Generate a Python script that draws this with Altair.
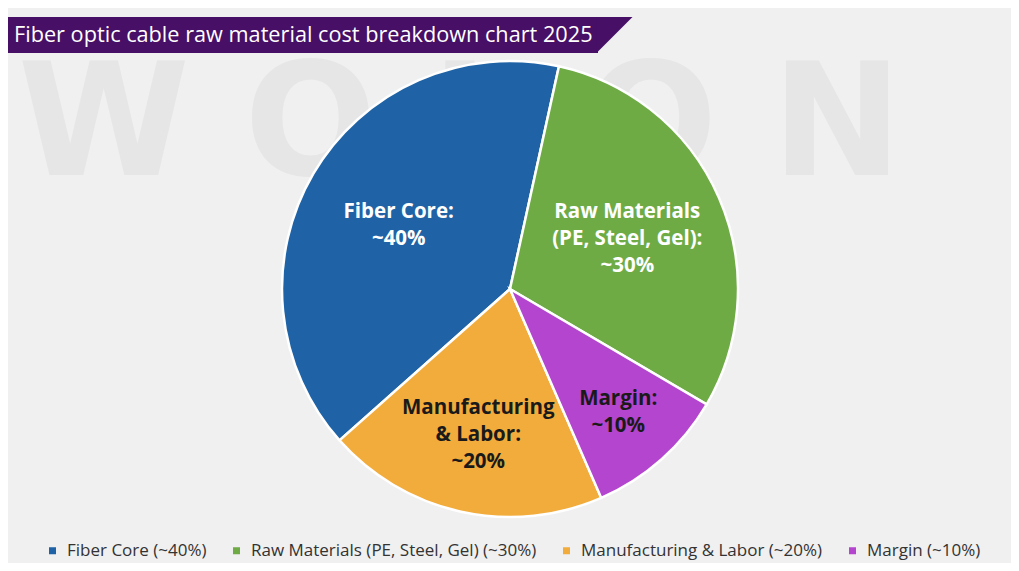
import math
import altair as alt
import pandas as pd

# ---- data ----
categories = ["Fiber Core (~40%)", "Raw Materials (PE, Steel, Gel) (~30%)",
              "Manufacturing & Labor (~20%)", "Margin (~10%)"]
slice_labels = ["Fiber Core:\n~40%", "Raw Materials\n(PE, Steel, Gel):\n~30%",
                "Manufacturing\n& Labor:\n~20%", "Margin:\n~10%"]
shares = [40, 30, 20, 10]
clockwise_pos = [3, 0, 2, 1]   # drawing order clockwise from the start angle
colors = ["#1f63a6", "#6eab45", "#f2ac3c", "#b445cf"]
title_text = "Fiber optic cable raw material cost breakdown chart 2025"
watermark_text = "W O L O N"

df = pd.DataFrame({"cat": categories, "label": slice_labels,
                   "value": shares, "pos": clockwise_pos})

W, H = 1003, 555
CX, CY = 502, 281
R = 228
start = 0.2164
LH = 27

theta_scale = alt.Scale(domain=[0, 100], range=[start, start + 2 * math.pi])
color_scale = alt.Scale(domain=categories, range=colors)

one = pd.DataFrame({"a": [0]})

watermark = alt.Chart(one).mark_text(
    text=watermark_text, font="DejaVu Sans", fontSize=156, fontWeight="bold",
    color="#e6e6e6", align="center", baseline="alphabetic"
).encode(x=alt.value(452), y=alt.value(167))

banner = alt.Chart(one).mark_rect(color="#470f66").encode(
    x=alt.value(0), x2=alt.value(590), y=alt.value(9), y2=alt.value(45))

banner_tip = alt.Chart(one).mark_point(
    shape="M-1,-1 L1,-1 L-1,1 Z", filled=True, size=1296, color="#470f66",
    opacity=1, strokeWidth=0
).encode(x=alt.value(606.5), y=alt.value(27))

title = alt.Chart(one).mark_text(
    text=title_text, font="Open Sans", fontSize=21.7, color="white",
    align="left", baseline="middle"
).encode(x=alt.value(6), y=alt.value(27))

arcs = alt.Chart(df).mark_arc(outerRadius=R, stroke="white", strokeWidth=2.5).encode(
    theta=alt.Theta("value:Q", stack=True, scale=theta_scale),
    order=alt.Order("pos:Q"),
    x=alt.value(CX), y=alt.value(CY),
    color=alt.Color("cat:N", scale=color_scale, legend=alt.Legend(
        title=None, orient="none", direction="horizontal",
        legendX=36, legendY=534, symbolType="square", symbolSize=49,
        symbolStrokeWidth=0, labelFont="Open Sans", labelFontSize=17,
        labelColor="#333333", columnPadding=21, labelOffset=6, padding=0,
        labelLimit=400)),
)

label_base = alt.Chart(df).transform_window(
    cum="sum(value)", sort=[alt.SortField("pos")], frame=[None, 0]
).transform_calculate(
    mid="datum.cum - datum.value / 2",
    lr="[128, 163, 148, 129][datum.pos]"
)


def label_layer(test, shift):
    return label_base.transform_filter(test).mark_text(
        font="Open Sans", fontSize=20.5, fontWeight="bold", lineBreak="\n",
        lineHeight=LH, align="center", baseline="middle", dy=shift
    ).encode(
        theta=alt.Theta("mid:Q", stack=None, scale=theta_scale),
        radius=alt.Radius("lr:Q", scale=None),
        x=alt.value(CX), y=alt.value(CY),
        text="label:N",
        color=alt.condition("datum.pos == 1 || datum.pos == 2",
                            alt.value("#1a1a1a"), alt.value("white")),
    )


labels2 = label_layer("datum.pos == 1 || datum.pos == 3", -LH / 2 + 2)
labels3 = label_layer("datum.pos == 0 || datum.pos == 2", -LH + 1)

chart = alt.layer(watermark, banner, banner_tip, title, arcs, labels2, labels3).properties(
    width=W, height=H, background="#f0f0f0",
    autosize=alt.AutoSizeParams(type="fit", contains="padding"),
    padding=0,
).configure_view(stroke=None)

chart.save("out.html", embed_options={"renderer": "svg", "actions": False})
